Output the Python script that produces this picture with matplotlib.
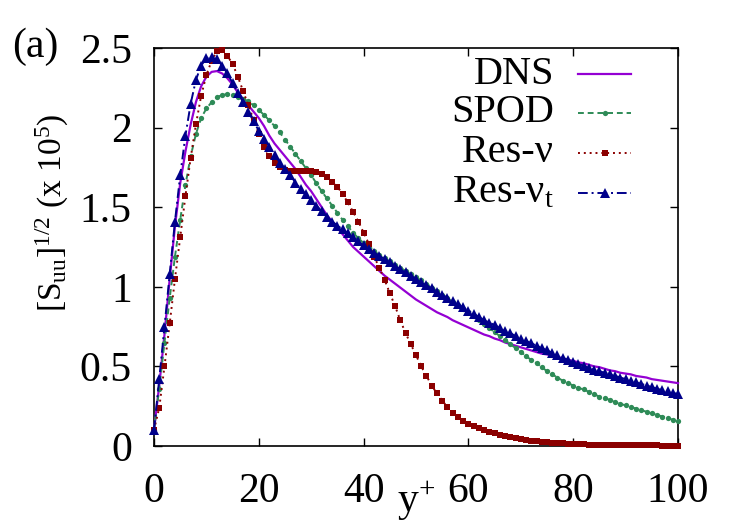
import numpy as np
import matplotlib
matplotlib.use("Agg")
import matplotlib.pyplot as plt
from matplotlib.lines import Line2D

plt.rcParams['font.family'] = ['Liberation Serif', 'DejaVu Serif']
plt.rcParams['mathtext.fontset'] = 'custom'
plt.rcParams['mathtext.rm'] = 'Liberation Serif'
plt.rcParams['mathtext.it'] = 'Liberation Serif:italic'

yplus = list(range(0, 101))

dns = [0.10, 0.38, 0.70, 1.05, 1.38, 1.65, 1.85, 2.02, 2.16, 2.26,
       2.32, 2.35, 2.355, 2.34, 2.31, 2.27, 2.22, 2.18, 2.14, 2.10,
       2.06, 2.01, 1.95, 1.90, 1.86, 1.82, 1.78, 1.74, 1.69, 1.64,
       1.60, 1.55, 1.50, 1.45, 1.41, 1.37, 1.33, 1.29, 1.25, 1.22,
       1.19, 1.16, 1.13, 1.10, 1.07, 1.045, 1.02, 0.995, 0.97, 0.945,
       0.92, 0.90, 0.88, 0.86, 0.84, 0.825, 0.81, 0.79, 0.775, 0.76,
       0.745, 0.73, 0.715, 0.70, 0.69, 0.675, 0.665, 0.65, 0.64, 0.63,
       0.62, 0.61, 0.60, 0.59, 0.58, 0.575, 0.565, 0.56, 0.55, 0.54,
       0.535, 0.525, 0.52, 0.51, 0.50, 0.495, 0.485, 0.475, 0.47, 0.46,
       0.455, 0.45, 0.44, 0.435, 0.43, 0.42, 0.415, 0.41, 0.405, 0.40,
       0.395]

spod = [0.10, 0.36, 0.65, 0.93, 1.19, 1.42, 1.64, 1.82, 1.96, 2.06,
        2.12, 2.16, 2.19, 2.205, 2.21, 2.205, 2.195, 2.18, 2.165, 2.14,
        2.11, 2.08, 2.045, 2.01, 1.97, 1.925, 1.88, 1.835, 1.79, 1.745,
        1.70, 1.65, 1.60, 1.555, 1.51, 1.465, 1.42, 1.38, 1.34, 1.305,
        1.275, 1.25, 1.225, 1.20, 1.18, 1.16, 1.14, 1.12, 1.10, 1.08,
        1.06, 1.04, 1.02, 0.995, 0.975, 0.95, 0.93, 0.905, 0.885, 0.86,
        0.84, 0.815, 0.79, 0.765, 0.74, 0.715, 0.69, 0.665, 0.64, 0.615,
        0.59, 0.565, 0.54, 0.52, 0.495, 0.47, 0.45, 0.43, 0.41, 0.395,
        0.38, 0.365, 0.355, 0.34, 0.325, 0.31, 0.30, 0.29, 0.275, 0.265,
        0.255, 0.245, 0.235, 0.225, 0.215, 0.205, 0.195, 0.185, 0.175, 0.165,
        0.155]

res_nu = [0.10, 0.24, 0.50, 0.77, 1.05, 1.31, 1.57, 1.81, 2.02, 2.20,
          2.33, 2.42, 2.48, 2.49, 2.45, 2.40, 2.32, 2.23, 2.14, 2.05,
          1.96, 1.88, 1.82, 1.78, 1.75, 1.735, 1.73, 1.73, 1.73, 1.73,
          1.725, 1.72, 1.71, 1.69, 1.66, 1.63, 1.58, 1.53, 1.47, 1.41,
          1.34, 1.27, 1.19, 1.12, 1.045, 0.96, 0.88, 0.79, 0.71, 0.64,
          0.57, 0.50, 0.44, 0.38, 0.33, 0.285, 0.245, 0.21, 0.18, 0.16,
          0.14, 0.125, 0.113, 0.10, 0.09, 0.08, 0.07, 0.062, 0.055, 0.048,
          0.042, 0.037, 0.032, 0.029, 0.026, 0.023, 0.020, 0.018, 0.016, 0.014,
          0.012, 0.011, 0.010, 0.009, 0.008, 0.008, 0.007, 0.007, 0.006, 0.006,
          0.005, 0.005, 0.005, 0.004, 0.004, 0.004, 0.004, 0.003, 0.003, 0.003,
          0.003]

res_nut = [0.10, 0.42, 0.75, 1.08, 1.41, 1.70, 1.95, 2.15, 2.30, 2.39,
           2.435, 2.445, 2.43, 2.39, 2.34, 2.28, 2.22, 2.16, 2.10, 2.04,
           1.98, 1.93, 1.88, 1.83, 1.78, 1.74, 1.70, 1.655, 1.615, 1.58,
           1.545, 1.51, 1.475, 1.44, 1.41, 1.385, 1.36, 1.335, 1.31, 1.285,
           1.26, 1.24, 1.215, 1.195, 1.175, 1.155, 1.13, 1.11, 1.09, 1.07,
           1.05, 1.03, 1.01, 0.99, 0.97, 0.95, 0.93, 0.91, 0.89, 0.87,
           0.85, 0.83, 0.81, 0.79, 0.775, 0.76, 0.74, 0.725, 0.71, 0.69,
           0.675, 0.66, 0.645, 0.63, 0.615, 0.60, 0.585, 0.57, 0.555, 0.54,
           0.53, 0.515, 0.505, 0.49, 0.48, 0.47, 0.46, 0.45, 0.44, 0.43,
           0.42, 0.41, 0.40, 0.39, 0.38, 0.37, 0.36, 0.35, 0.345, 0.335,
           0.325]

labels = ['DNS', 'SPOD', 'Res-ν', r'Res-ν$_{\mathrm{t}}$']
xticks = [0, 20, 40, 60, 80, 100]
yticks = [0, 0.5, 1, 1.5, 2, 2.5]
ytick_labels = ['0', '0.5', '1', '1.5', '2', '2.5']

fig = plt.figure(figsize=(7.5, 5.25), dpi=100)
ax = fig.add_axes([154/750, 1 - 446/525, (678-154)/750, (446-48)/525])

styles = [
    dict(color='#9400D3', lw=1.6, ls='-'),
    dict(color='#2E8B57', lw=1.4, ls=(0, (3, 2)), marker='o', ms=3.8, mew=0),
    dict(color='#8B0000', lw=1.4, ls=(0, (1, 2)), marker='s', ms=4.8, mew=0),
    dict(color='#00008B', lw=1.4, ls=(0, (5, 2, 1, 2)), marker='^', ms=7, mew=0),
]
series = [dns, spod, res_nu, res_nut]
for s, st in zip(series, styles):
    ax.plot(yplus, s, **st, clip_on=False, zorder=3)

ax.set_xlim(0, 100)
ax.set_ylim(0, 2.5)
ax.set_xticks(xticks)
ax.set_yticks(yticks)
ax.set_yticklabels(ytick_labels)
ax.tick_params(direction='in', top=True, right=True, length=6, width=1,
               labelsize=30)
ax.tick_params(axis='y', pad=16)
ax.tick_params(axis='x', pad=19)
for sp in ax.spines.values():
    sp.set_linewidth(1.2)

ax.set_xlabel(r'y$^{+}$', fontsize=30, labelpad=-22)
ax.set_ylabel(r'[S$_{\mathrm{uu}}$]$^{1/2}$ (x 10$^{5}$)', fontsize=24)
ax.yaxis.set_label_coords((52 - 154) / 524, (446 - 213) / 398)
ax.yaxis.label.set_va('center')

fig.text(12/750, 1 - 47/525, '(a)', fontsize=30, va='center', ha='left')

# legend (gnuplot style: text right-aligned, sample to the right)
row_y = [74, 113, 153, 193]
for lab, st, ry in zip(labels, styles, row_y):
    yf = (446 - ry) / (446 - 48)
    x0 = (578 - 154) / 524
    x1 = (631 - 154) / 524
    ax.text((554 - 154) / 524, yf, lab, transform=ax.transAxes, fontsize=29,
            ha='right', va='center')
    ln = Line2D([x0, (x0 + x1) / 2, x1], [yf, yf, yf], transform=ax.transAxes,
                markevery=[1], **st)
    ax.add_line(ln)

fig.savefig('out.png', dpi=100)
